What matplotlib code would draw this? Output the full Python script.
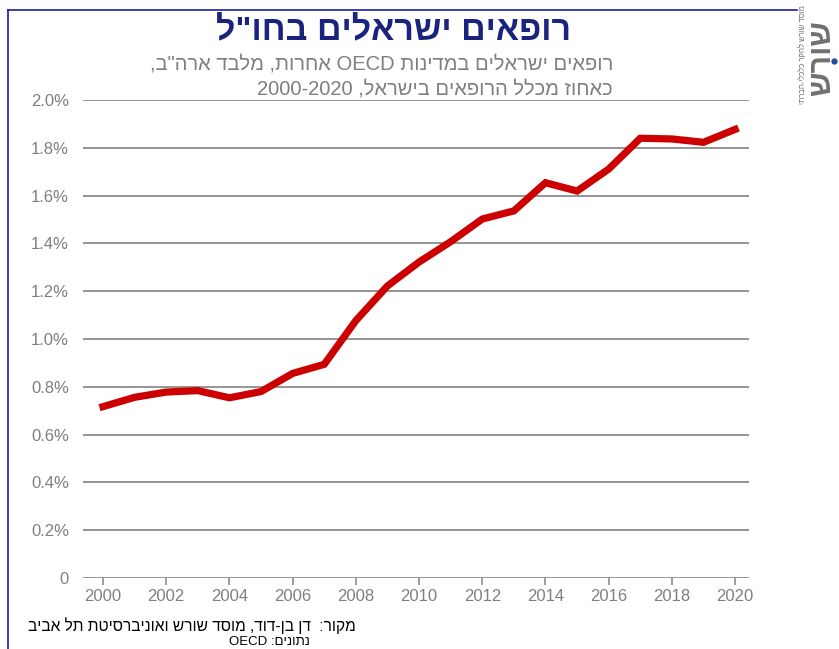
import re
import matplotlib
matplotlib.use('Agg')
import matplotlib.pyplot as plt
from matplotlib.lines import Line2D

plt.rcParams['font.family'] = ['Liberation Sans', 'DejaVu Sans']

years = list(range(2000, 2021))
share = [0.717, 0.756, 0.778, 0.784, 0.754, 0.780, 0.856, 0.894, 1.077, 1.222,
         1.322, 1.407, 1.502, 1.536, 1.654, 1.619, 1.711, 1.840, 1.837, 1.823, 1.877]
yticks = [0.0, 0.2, 0.4, 0.6, 0.8, 1.0, 1.2, 1.4, 1.6, 1.8, 2.0]
xticks = list(range(2000, 2021, 2))

title = 'רופאים ישראלים בחו"ל'
sub1 = 'רופאים ישראלים במדינות OECD אחרות, מלבד ארה"ב,'
sub2 = 'כאחוז מכלל הרופאים בישראל, 2000-2020'
src1 = 'מקור:  דן בן-דוד, מוסד שורש ואוניברסיטת תל אביב'
src2 = 'נתונים: OECD'
logo = 'שורש'
logo_small = 'מוסד שורש לחקר כלכלי-חברתי'


def visual(s):
    # matplotlib has no bidi: put hebrew in display order, keep latin/number runs ltr
    r = s[::-1]
    return re.sub(r'[A-Za-z0-9]+(?:[.\-%][A-Za-z0-9]+)*', lambda m: m.group(0)[::-1], r)


W, H = 839, 649
fig = plt.figure(figsize=(W / 100, H / 100), dpi=100)

def fx(x):
    return x / W

def fy(y):
    return 1 - y / H

ax = fig.add_axes([fx(83), fy(578), fx(748.7) - fx(83), fy(100) - fy(578)])
ax.plot(years, share, color='#cc0000', lw=5.2, solid_joinstyle='miter', zorder=3)
ax.set_xlim(1999.367, 2020.43)
ax.set_ylim(0, 2.0)
ax.set_yticks(yticks)
ax.set_yticklabels(['0' if v == 0 else '%.1f%%' % v for v in yticks])
ax.set_xticks(xticks)
ax.yaxis.grid(True, color='#8c8c8c', lw=1.3)
ax.set_axisbelow(True)
for s in ax.spines.values():
    s.set_visible(False)
ax.tick_params(axis='y', length=0, pad=10, labelsize=12, labelcolor='#7f7f7f')
ax.tick_params(axis='x', length=5, width=1.2, color='#8c8c8c', pad=3,
               labelsize=12, labelcolor='#7f7f7f')

# frame lines (left and top)
fig.add_artist(Line2D([fx(8), fx(8)], [fy(10), 0], color='#1a1aa0', lw=1.2))
fig.add_artist(Line2D([fx(8), fx(797)], [fy(10), fy(10)], color='#1a1aa0', lw=1.2))

fig.text(fx(394), fy(32), visual(title), ha='center', va='center',
         fontsize=24.5, fontweight='bold', color='#1a237e')
fig.text(fx(613), fy(64), visual(sub1), ha='right', va='center', fontsize=14.5, color='#7f7f7f')
fig.text(fx(613), fy(89), visual(sub2), ha='right', va='center', fontsize=14.5, color='#7f7f7f')

fig.text(fx(356), fy(626), visual(src1), ha='right', va='center', fontsize=11.2, color='#000000')
fig.text(fx(310), fy(642), visual(src2), ha='right', va='center', fontsize=9.5, color='#000000')

# logo
fig.text(fx(822), fy(58), visual(logo), ha='center', va='center', rotation=90,
         fontsize=22, fontweight='bold', color='#707070')
fig.text(fx(803), fy(55), visual(logo_small), ha='center', va='center', rotation=90,
         fontsize=5.5, color='#707070')
fig.add_artist(Line2D([fx(834)], [fy(61)], marker='o', ms=3.5, color='#1f4e9a', lw=0))

fig.savefig('out.png', dpi=100)
